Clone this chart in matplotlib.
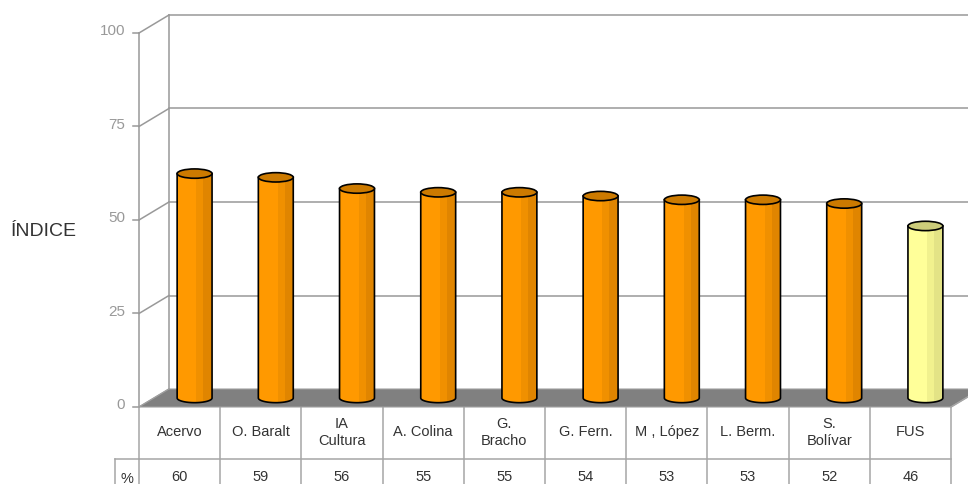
import matplotlib.pyplot as plt
from matplotlib.patches import Polygon, Rectangle, Ellipse
import numpy as np

# Data
categories = ['Acervo', 'O. Baralt', 'IA\nCultura', 'A. Colina', 'G.\nBracho',
              'G. Fern.', 'M , López', 'L. Berm.', 'S.\nBolívar', 'FUS']
values = [60, 59, 56, 55, 55, 54, 53, 53, 52, 46]
highlight = 'FUS'
y_ticks = [0, 25, 50, 75, 100]

plt.rcParams['font.family'] = ['Liberation Sans', 'DejaVu Sans']

GRID = '#999999'
TABLE = '#a6a6a6'
TXT = '#333333'

# oblique offset of the back wall (in data units)
DX, DY = 0.369, 4.81
x0 = -0.5
n = len(categories)

fig = plt.figure(figsize=(9.68, 4.84), dpi=100)
ax = fig.add_axes([0, 0, 1, 1])
ax.set_xlim(-2.212, 9.709)
ax.set_ylim(-20.59, 108.82)
ax.axis('off')

# walls and gridlines
for v in y_ticks:
    ax.plot([x0, x0 + DX], [v, v + DY], color=GRID, lw=1.1, zorder=1)
    if v > 0:
        ax.plot([x0 + DX, 9.8], [v + DY, v + DY], color=GRID, lw=1.1, zorder=1)
    ax.plot([x0 - 0.08, x0], [v, v], color=GRID, lw=1.1, zorder=1)
    ax.text(x0 - 0.17, v + 0.4, str(v), ha='right', va='center', fontsize=11, color='#999999')
ax.plot([x0, x0], [0, 100], color=GRID, lw=1.1, zorder=1)
ax.plot([x0 + DX, x0 + DX], [DY, 100 + DY], color=GRID, lw=1.1, zorder=1)

# floor
floor = Polygon([(x0, 0), (x0 + n, 0), (x0 + n + DX, DY), (x0 + DX, DY)],
                closed=True, facecolor='#808080', edgecolor='#a0a0a0', lw=0.8, zorder=2)
ax.add_patch(floor)

# cylinders
w = 0.43
eh = 2.5
for i, (cat, val) in enumerate(zip(categories, values)):
    if cat == highlight:
        shades = ['#ffff99', '#f1f18e', '#e3e386']
        top_c = '#cccc7a'
    else:
        shades = ['#ff9900', '#f09000', '#e08500']
        top_c = '#cc7a00'
    cx = i + DX / 2
    base = DY / 2
    top = val + DY / 2
    # silhouette: body plus lower half ellipse
    t = np.linspace(np.pi, 2 * np.pi, 40)
    arc = np.column_stack([cx + w / 2 * np.cos(t), base + eh / 2 * np.sin(t)])
    sil = np.vstack([[cx - w / 2, top], arc, [cx + w / 2, top]])
    clip = Polygon(sil, closed=True, transform=ax.transData)
    edges = [0, 0.55, 0.75, 1.0]
    for k in range(3):
        r = Rectangle((cx - w / 2 + edges[k] * w, base - eh), (edges[k + 1] - edges[k]) * w,
                      top - base + eh, facecolor=shades[k], edgecolor='none', zorder=3)
        ax.add_patch(r)
        r.set_clip_path(clip)
    ax.add_patch(Polygon(sil, closed=True, facecolor='none', edgecolor='black', lw=1.2, zorder=4))
    ax.add_patch(Ellipse((cx, top), w, eh, facecolor=top_c, edgecolor='black', lw=1.2, zorder=5))

# data table
row1 = -13.9
for i in range(n + 1):
    ax.plot([x0 + i, x0 + i], [0, -21], color=TABLE, lw=1.1, zorder=1)
ax.plot([x0, x0 + n], [row1, row1], color=TABLE, lw=1.1)
ax.plot([x0 - 0.295, x0], [row1, row1], color=TABLE, lw=1.1)
ax.plot([x0 - 0.295, x0 - 0.295], [row1, -21], color=TABLE, lw=1.1)
ax.plot([x0 + n, x0 + n + DX * 0.6], [0, DY * 0.6], color=TABLE, lw=1.1)
for i, (cat, val) in enumerate(zip(categories, values)):
    ax.text(i, -6.8, cat, ha='center', va='center', fontsize=10.5, color=TXT, linespacing=1.3)
    ax.text(i, -18.7, str(val), ha='center', va='center', fontsize=10.5, color=TXT)
ax.text(x0 - 0.15, -19.2, '%', ha='center', va='center', fontsize=10.5, color=TXT)

ax.text(-1.68, 47.0, 'ÍNDICE', ha='center', va='center', fontsize=14, color=TXT)

fig.savefig('out.png', dpi=100)
